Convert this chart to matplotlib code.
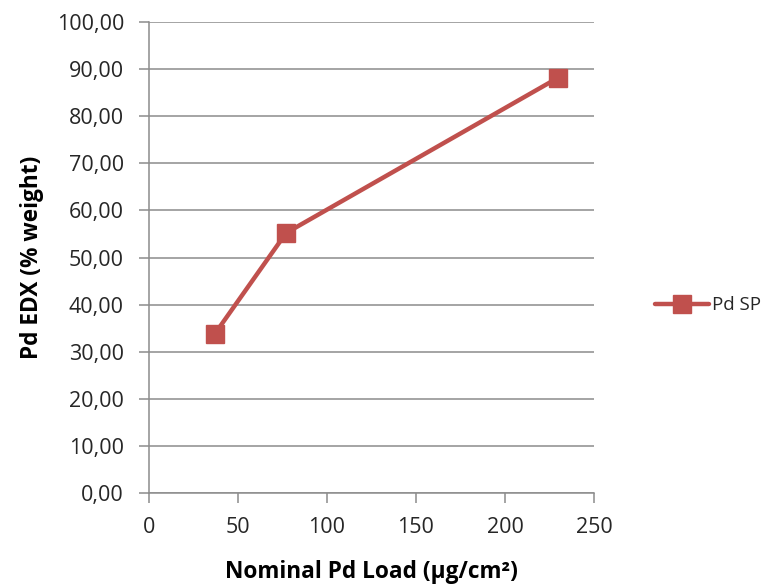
import matplotlib
matplotlib.use("Agg")
import matplotlib.pyplot as plt
from matplotlib.ticker import FuncFormatter

# Nominal Pd load vs. measured Pd content
load = [37, 77, 230]
pd_edx = [33.8, 55.2, 88.2]
series_name = "Pd SP"
x_ticks = [0, 50, 100, 150, 200, 250]
y_ticks = [0, 10, 20, 30, 40, 50, 60, 70, 80, 90, 100]

plt.rcParams['font.family'] = ['Open Sans', 'DejaVu Sans']

fig = plt.figure(figsize=(7.74, 5.84), dpi=100)
ax = fig.add_axes([0.1925, 0.1558, 0.5749, 0.8065])

red = '#C0504D'
grid = '#8C8C8C'

ax.plot(load, pd_edx, color=red, lw=3.2, marker='s', markersize=13,
        markerfacecolor=red, markeredgecolor=red, label=series_name,
        solid_capstyle='round', zorder=3)

ax.set_xlim(0, 250)
ax.set_ylim(0, 100)
ax.set_xticks(x_ticks)
ax.set_yticks(y_ticks)
ax.yaxis.set_major_formatter(FuncFormatter(lambda v, p: f"{v:.2f}".replace('.', ',')))

ax.grid(axis='y', color=grid, lw=1.1, zorder=0)
for s in ['top', 'right']:
    ax.spines[s].set_visible(False)
for s in ['left', 'bottom']:
    ax.spines[s].set_color(grid)
    ax.spines[s].set_linewidth(1.1)

ax.tick_params(axis='both', colors=grid, length=7, width=1.1, labelcolor='#262626',
               labelsize=15.5)
ax.tick_params(axis='x', pad=10)
ax.tick_params(axis='y', pad=11)

ax.set_xlabel("Nominal Pd Load (\u00b5g/cm\u00b2)", fontsize=16.3, fontweight='bold',
              labelpad=16)
ax.set_ylabel("Pd EDX (% weight)", fontsize=16.3, fontweight='bold', labelpad=9)

leg = fig.legend(loc='center left', bbox_to_anchor=(0.824, 0.477), frameon=False,
                 fontsize=13.5, handlelength=2.9, handletextpad=0.15, markerscale=0.95)
for t in leg.get_texts():
    t.set_color('#262626')

fig.savefig("out.png", dpi=100, facecolor='white')
